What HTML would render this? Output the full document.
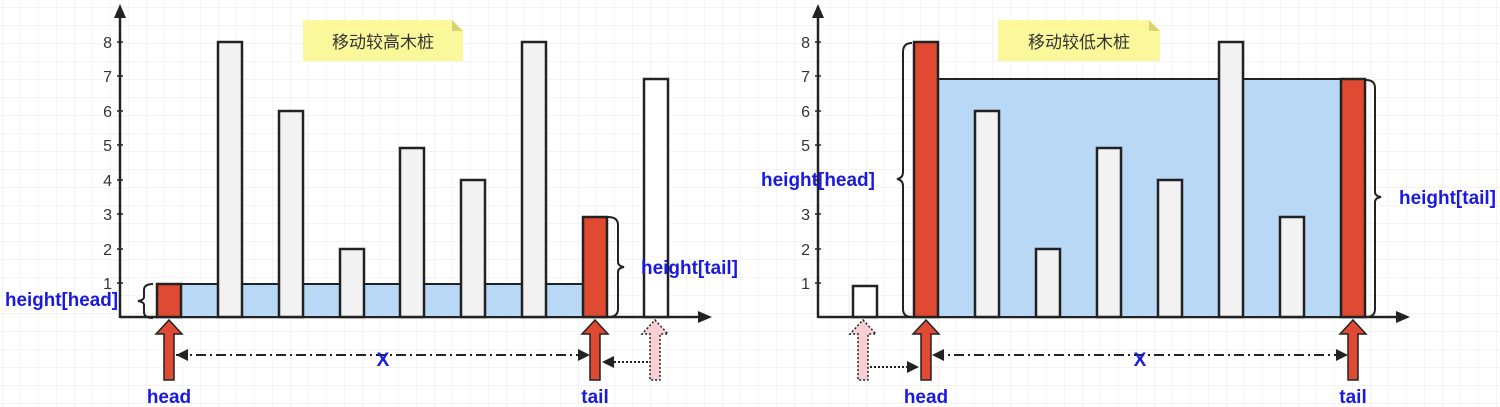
<!DOCTYPE html>
<html><head><meta charset="utf-8"><style>
html,body{margin:0;padding:0;background:#fff}
svg{display:block}
text{font-family:"Liberation Sans","Noto Sans CJK SC",sans-serif}
.b{font-size:19px;fill:#1a1adf;font-weight:bold}
</style></head><body>
<svg width="1500" height="407" viewBox="0 0 1500 407" xmlns="http://www.w3.org/2000/svg">
<defs>
<pattern id="g" width="18" height="18" patternUnits="userSpaceOnUse" x="3" y="8">
<path d="M18 0V18M0 18H18" fill="none" stroke="#e8e8e8" stroke-width="1"/>
</pattern>
</defs>
<rect width="1500" height="407" fill="url(#g)"/>

<!-- LEFT CHART -->
<g stroke="#222" stroke-width="2.5" fill="none">
<line x1="120" y1="318" x2="120" y2="16"/>
<line x1="120" y1="317" x2="700" y2="317"/>
</g>
<path d="M114 18L120 4L126 18z" fill="#222"/>
<path d="M698 311L712 317L698 323z" fill="#222"/>
<g font-size="16" fill="#333" text-anchor="end">
<text x="112" y="48">8</text><text x="112" y="82">7</text><text x="112" y="117">6</text><text x="112" y="151">5</text><text x="112" y="186">4</text><text x="112" y="220">3</text><text x="112" y="255">2</text><text x="112" y="289">1</text>
</g>
<g stroke="#222" stroke-width="1.5">
<line x1="117" y1="42" x2="123" y2="42"/><line x1="117" y1="76" x2="123" y2="76"/><line x1="117" y1="111" x2="123" y2="111"/><line x1="117" y1="145" x2="123" y2="145"/><line x1="117" y1="180" x2="123" y2="180"/><line x1="117" y1="214" x2="123" y2="214"/><line x1="117" y1="249" x2="123" y2="249"/><line x1="117" y1="283" x2="123" y2="283"/>
</g>
<rect x="181" y="284" width="402" height="33" fill="#b8d8f5" stroke="#222" stroke-width="2"/>
<g stroke="#222" stroke-width="2.5">
<rect x="157" y="284" width="24" height="33" fill="#e04a33"/>
<rect x="218" y="42" width="24" height="275" fill="#f2f2f2"/>
<rect x="279" y="111" width="24" height="206" fill="#f2f2f2"/>
<rect x="340" y="249" width="24" height="68" fill="#f2f2f2"/>
<rect x="400" y="148" width="24" height="169" fill="#f2f2f2"/>
<rect x="461" y="180" width="24" height="137" fill="#f2f2f2"/>
<rect x="522" y="42" width="24" height="275" fill="#f2f2f2"/>
<rect x="583" y="217" width="24" height="100" fill="#e04a33"/>
<rect x="644" y="79" width="24" height="238" fill="#fff"/>
</g>
<path d="M303 20H452L463 31V61H303z" fill="#fbf89c"/>
<path d="M452 20L463 31H452z" fill="#d8d470"/>
<text x="383" y="48" font-size="17" fill="#333" text-anchor="middle">移动较高木桩</text>
<path d="M153 284Q144 284 144 290V297Q144 300 138 301Q144 302 144 305V312Q144 318 153 318" fill="none" stroke="#222" stroke-width="2"/>
<text x="5" y="306" class="b" textLength="113" lengthAdjust="spacingAndGlyphs">height[head]</text>
<path d="M608 217Q618 217 618 225V262Q618 266 624 267Q618 268 618 272V309Q618 317 608 317" fill="none" stroke="#222" stroke-width="2"/>
<text x="641" y="274" class="b" textLength="97" lengthAdjust="spacingAndGlyphs">height[tail]</text>
<path d="M169 320L182 334H174V380H164V334H156z" fill="#e04a33" stroke="#222" stroke-width="1.5"/>
<path d="M595 320L608 334H600V380H590V334H582z" fill="#e04a33" stroke="#222" stroke-width="1.5"/>
<path d="M655 320L668 334H660V380H650V334H642z" fill="#f8d0d3" stroke="#222" stroke-width="1.5" stroke-dasharray="2 2"/>
<line x1="176" y1="355" x2="588" y2="355" stroke="#222" stroke-width="2" stroke-dasharray="10 4 2 4"/>
<path d="M176 355L188 349V361z" fill="#222"/>
<path d="M578 349L590 355L578 361z" fill="#222"/>
<text x="383" y="366" class="b" font-size="21" text-anchor="middle">X</text>
<line x1="648" y1="362" x2="612" y2="362" stroke="#222" stroke-width="2" stroke-dasharray="2 2"/>
<path d="M602 362L614 356V368z" fill="#222"/>
<text x="169" y="403" class="b" text-anchor="middle">head</text>
<text x="595" y="403" class="b" text-anchor="middle">tail</text>

<!-- RIGHT CHART -->
<g stroke="#222" stroke-width="2.5" fill="none">
<line x1="818" y1="318" x2="818" y2="16"/>
<line x1="818" y1="317" x2="1398" y2="317"/>
</g>
<path d="M812 18L818 4L824 18z" fill="#222"/>
<path d="M1396 311L1410 317L1396 323z" fill="#222"/>
<g font-size="16" fill="#333" text-anchor="end">
<text x="810" y="48">8</text><text x="810" y="82">7</text><text x="810" y="117">6</text><text x="810" y="151">5</text><text x="810" y="220">3</text><text x="810" y="255">2</text><text x="810" y="289">1</text>
</g>
<g stroke="#222" stroke-width="1.5">
<line x1="815" y1="42" x2="821" y2="42"/><line x1="815" y1="76" x2="821" y2="76"/><line x1="815" y1="111" x2="821" y2="111"/><line x1="815" y1="145" x2="821" y2="145"/><line x1="815" y1="180" x2="821" y2="180"/><line x1="815" y1="214" x2="821" y2="214"/><line x1="815" y1="249" x2="821" y2="249"/><line x1="815" y1="283" x2="821" y2="283"/>
</g>
<rect x="938" y="79" width="403" height="238" fill="#b8d8f5" stroke="#222" stroke-width="2"/>
<g stroke="#222" stroke-width="2.5">
<rect x="853" y="286" width="24" height="31" fill="#fff"/>
<rect x="914" y="42" width="24" height="275" fill="#e04a33"/>
<rect x="975" y="111" width="24" height="206" fill="#f2f2f2"/>
<rect x="1036" y="249" width="24" height="68" fill="#f2f2f2"/>
<rect x="1097" y="148" width="24" height="169" fill="#f2f2f2"/>
<rect x="1158" y="180" width="24" height="137" fill="#f2f2f2"/>
<rect x="1219" y="42" width="24" height="275" fill="#f2f2f2"/>
<rect x="1280" y="217" width="24" height="100" fill="#f2f2f2"/>
<rect x="1341" y="79" width="24" height="238" fill="#e04a33"/>
</g>
<path d="M998 20H1149L1160 31V61H998z" fill="#fbf89c"/>
<path d="M1149 20L1160 31H1149z" fill="#d8d470"/>
<text x="1079" y="48" font-size="17" fill="#333" text-anchor="middle">移动较低木桩</text>
<path d="M912 43Q903 43 903 52V172Q903 178 897 179Q903 180 903 186V309Q903 317 912 317" fill="none" stroke="#222" stroke-width="2"/>
<text x="761" y="186" class="b" textLength="114" lengthAdjust="spacingAndGlyphs">height[head]</text>
<path d="M1366 80Q1375 80 1375 88V192Q1375 196 1381 197Q1375 198 1375 202V309Q1375 317 1366 317" fill="none" stroke="#222" stroke-width="2"/>
<text x="1399" y="204" class="b" textLength="97" lengthAdjust="spacingAndGlyphs">height[tail]</text>
<path d="M863 320L876 334H868V380H858V334H850z" fill="#f8d0d3" stroke="#222" stroke-width="1.5" stroke-dasharray="2 2"/>
<path d="M926 320L939 334H931V380H921V334H913z" fill="#e04a33" stroke="#222" stroke-width="1.5"/>
<path d="M1353 320L1366 334H1358V380H1348V334H1340z" fill="#e04a33" stroke="#222" stroke-width="1.5"/>
<line x1="934" y1="355" x2="1346" y2="355" stroke="#222" stroke-width="2" stroke-dasharray="10 4 2 4"/>
<path d="M932 355L944 349V361z" fill="#222"/>
<path d="M1336 349L1348 355L1336 361z" fill="#222"/>
<text x="1140" y="366" class="b" font-size="21" text-anchor="middle">X</text>
<line x1="870" y1="367" x2="908" y2="367" stroke="#222" stroke-width="2" stroke-dasharray="2 2"/>
<path d="M919 367L907 361V373z" fill="#222"/>
<text x="926" y="403" class="b" text-anchor="middle">head</text>
<text x="1353" y="403" class="b" text-anchor="middle">tail</text>
</svg>
</body></html>
